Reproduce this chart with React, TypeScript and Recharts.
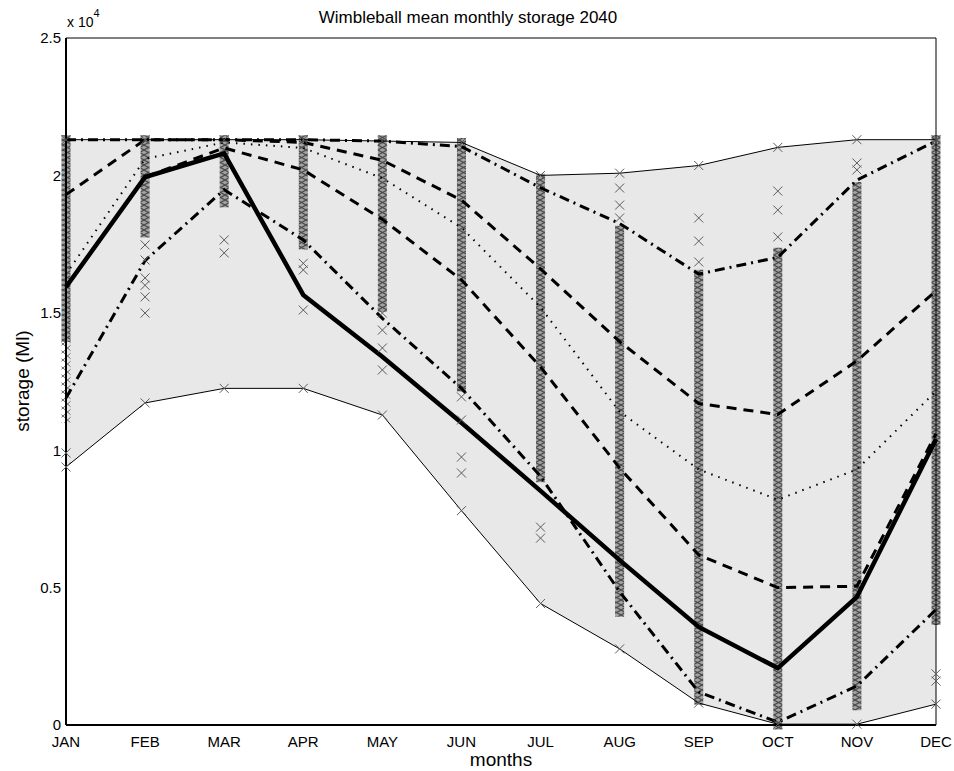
import { ComposedChart, Area, Line, Scatter, XAxis, YAxis } from "recharts";

const MONTHS = ["JAN", "FEB", "MAR", "APR", "MAY", "JUN", "JUL", "AUG", "SEP", "OCT", "NOV", "DEC"];
const MONTH_NUM = [1, 2, 3, 4, 5, 6, 7, 8, 9, 10, 11, 12];
const Y_TICKS = [0, 5000, 10000, 15000, 20000, 25000];

// storage in Ml
const maxStorage = [21300, 21300, 21300, 21300, 21250, 21200, 20000, 20080, 20360, 21020, 21300, 21300];
const minStorage = [9390, 11720, 12250, 12250, 11280, 7800, 4420, 2770, 800, 30, 30, 760];
const meanStorage = [15940, 19940, 20800, 15650, 13400, 11000, 8520, 6000, 3570, 2070, 4660, 10400];
const upperDashDot = [21300, 21300, 21300, 21300, 21250, 21050, 19550, 18250, 16410, 17020, 19830, 21250];
const upperDashed = [19300, 21300, 21300, 21200, 20550, 19100, 16600, 13950, 11700, 11300, 13250, 15800];
const medianStorage = [16400, 20600, 21200, 21000, 19900, 18100, 15200, 11400, 9300, 8200, 9300, 12150];
const lowerDashed = [15940, 19940, 21000, 20200, 18400, 16200, 13030, 9350, 6190, 5000, 5050, 10600];
const lowerDashDot = [11900, 16900, 19480, 17650, 14800, 12250, 9050, 4850, 1200, 100, 1420, 4200];

// dense runs of simulated values: [month, low, high]
const denseRuns = [
  [1, 19200, 21300], [1, 14100, 18900], [2, 17900, 21300], [3, 19000, 21300],
  [4, 17470, 21300], [5, 15200, 21300], [6, 12300, 21200], [7, 9000, 19900],
  [8, 4100, 18000], [9, 900, 16400], [10, 0, 17200], [11, 700, 19600], [12, 3800, 21300],
];
const sparseRuns = [[1, 11000, 14100]];

// isolated simulated values
const singles = [
  [1, 9900],
  [2, 17470], [2, 16920], [2, 16270], [2, 16000], [2, 15580], [2, 14990],
  [3, 17650], [3, 17180],
  [4, 16800], [4, 16560], [4, 15100],
  [5, 14990], [5, 14370], [5, 13720], [5, 12920],
  [6, 11940], [6, 11100], [6, 9750], [6, 9170],
  [7, 7200], [7, 6800],
  [8, 19540], [8, 18920], [8, 18450],
  [9, 18450], [9, 17610], [9, 16850],
  [10, 19430], [10, 18740], [10, 17760],
  [11, 20450], [11, 20200],
  [12, 1860], [12, 1600],
];

const table = MONTH_NUM.map((m, i) => ({
  m,
  band: [minStorage[i], maxStorage[i]],
  max: maxStorage[i],
  min: minStorage[i],
  mean: meanStorage[i],
  udd: upperDashDot[i],
  uda: upperDashed[i],
  med: medianStorage[i],
  lda: lowerDashed[i],
  ldd: lowerDashDot[i],
}));

const singlePoints = singles.map(([m, v]) => ({ m, v }));

const FONT = "'Liberation Sans', Arial, Helvetica, sans-serif";

function XMark(props: any) {
  const { cx, cy } = props;
  if (cx == null || cy == null) return <g />;
  return (
    <path
      d={`M${cx - 4.5},${cy - 4.5}L${cx + 4.5},${cy + 4.5}M${cx + 4.5},${cy - 4.5}L${cx - 4.5},${cy + 4.5}`}
      stroke="#5c5c5c"
      strokeWidth={1}
      fill="none"
    />
  );
}

const renderDot = (p: any) => <XMark key={`d${p.index}`} cx={p.cx} cy={p.cy} />;

export default function App() {
  return (
    <div style={{ position: "absolute", left: 0, top: 0, width: 954, height: 771, fontFamily: FONT }}>
      <ComposedChart
        width={954}
        height={771}
        data={table}
        margin={{ top: 38, right: 18, left: 0, bottom: 0 }}
      >
        <defs>
          <pattern id="xdense" patternUnits="userSpaceOnUse" width={9} height={5}>
            <rect width={9} height={5} fill="#a2a2a2" />
            <path d="M0,0L9,5M9,0L0,5" stroke="#4a4a4a" strokeWidth={1.1} />
          </pattern>
          <pattern id="xsparse" patternUnits="userSpaceOnUse" width={9} height={8}>
            <path d="M0,0L9,8M9,0L0,8" stroke="#666" strokeWidth={1} />
          </pattern>
        </defs>
        <XAxis
          dataKey="m"
          type="number"
          domain={[1, 12]}
          ticks={MONTH_NUM}
          tickFormatter={(v) => MONTHS[v - 1]}
          height={46}
          tickLine={false}
          tickSize={8}
          tickMargin={3}
          axisLine={{ stroke: "#000", strokeWidth: 2 }}
          tick={{ fill: "#000", fontSize: 15, fontFamily: FONT }}
          interval={0}
        />
        <XAxis
          xAxisId="bottomIn"
          dataKey="m"
          type="number"
          domain={[1, 12]}
          ticks={MONTH_NUM}
          orientation="bottom"
          mirror
          axisLine={false}
          tickLine={{ stroke: "#000" }}
          tickSize={7}
          tick={false}
        />
        <XAxis
          xAxisId="top"
          dataKey="m"
          type="number"
          domain={[1, 12]}
          ticks={MONTH_NUM}
          orientation="top"
          mirror
          axisLine={{ stroke: "#000", strokeWidth: 1 }}
          tickLine={{ stroke: "#000" }}
          tickSize={7}
          tick={false}
        />
        <YAxis
          type="number"
          domain={[0, 25000]}
          ticks={Y_TICKS}
          width={66}
          tickLine={false}
          tickSize={3}
          tickMargin={2}
          axisLine={{ stroke: "#000", strokeWidth: 2 }}
          tickFormatter={(v) => String(v / 10000)}
          tick={{ fill: "#000", fontSize: 15, fontFamily: FONT }}
          interval={0}
        />
        <YAxis
          yAxisId="leftIn"
          type="number"
          domain={[0, 25000]}
          ticks={Y_TICKS}
          orientation="left"
          mirror
          axisLine={false}
          tickLine={{ stroke: "#000" }}
          tickSize={7}
          tick={false}
        />
        <YAxis
          yAxisId="right"
          type="number"
          domain={[0, 25000]}
          ticks={Y_TICKS}
          orientation="right"
          mirror
          axisLine={{ stroke: "#000", strokeWidth: 1 }}
          tickLine={{ stroke: "#000" }}
          tickSize={7}
          tick={false}
        />

        <Area
          dataKey="band"
          type="linear"
          fill="#e8e8e8"
          fillOpacity={1}
          stroke="none"
          isAnimationActive={false}
        />

        {sparseRuns.map(([m, lo, hi], i) => (
          <Line
            key={`s${i}`}
            data={[{ m, v: lo }, { m, v: hi }]}
            dataKey="v"
            type="linear"
            stroke="url(#xsparse)"
            strokeWidth={9}
            dot={false}
            isAnimationActive={false}
          />
        ))}
        {denseRuns.map(([m, lo, hi], i) => (
          <Line
            key={`r${i}`}
            data={[{ m, v: lo }, { m, v: hi }]}
            dataKey="v"
            type="linear"
            stroke="url(#xdense)"
            strokeWidth={9}
            strokeLinecap="square"
            dot={false}
            isAnimationActive={false}
          />
        ))}
        <Scatter data={singlePoints} dataKey="v" shape={(p: any) => <XMark {...p} />} isAnimationActive={false} />

        <Line dataKey="max" type="linear" stroke="#000" strokeWidth={1} dot={renderDot} isAnimationActive={false} />
        <Line dataKey="min" type="linear" stroke="#000" strokeWidth={1} dot={renderDot} isAnimationActive={false} />
        <Line dataKey="ldd" type="linear" stroke="#000" strokeWidth={3} strokeDasharray="10 5 2 5" dot={false} isAnimationActive={false} />
        <Line dataKey="udd" type="linear" stroke="#000" strokeWidth={3} strokeDasharray="10 5 2 5" dot={false} isAnimationActive={false} />
        <Line dataKey="lda" type="linear" stroke="#000" strokeWidth={3} strokeDasharray="10 7" dot={false} isAnimationActive={false} />
        <Line dataKey="uda" type="linear" stroke="#000" strokeWidth={3} strokeDasharray="10 7" dot={false} isAnimationActive={false} />
        <Line dataKey="med" type="linear" stroke="#000" strokeWidth={2} strokeDasharray="1.5 6" dot={false} isAnimationActive={false} />
        <Line dataKey="mean" type="linear" stroke="#000" strokeWidth={4.5} dot={false} isAnimationActive={false} />
      </ComposedChart>

      <div style={{ position: "absolute", left: 0, width: 936, top: 8, textAlign: "center", fontSize: 17, color: "#000" }}>
        Wimbleball mean monthly storage 2040
      </div>
      <div style={{ position: "absolute", left: 67, top: 14, fontSize: 14, color: "#000", whiteSpace: "nowrap" }}>
        x 10<sup style={{ fontSize: 11, verticalAlign: "top", position: "relative", top: -7 }}>4</sup>
      </div>
      <div
        style={{
          position: "absolute",
          left: 23,
          top: 381,
          fontSize: 19,
          color: "#000",
          whiteSpace: "nowrap",
          transform: "translate(-50%, -50%) rotate(-90deg)",
        }}
      >
        storage (Ml)
      </div>
      <div style={{ position: "absolute", left: 0, width: 1002, top: 749, textAlign: "center", fontSize: 19, color: "#000" }}>
        months
      </div>
    </div>
  );
}
